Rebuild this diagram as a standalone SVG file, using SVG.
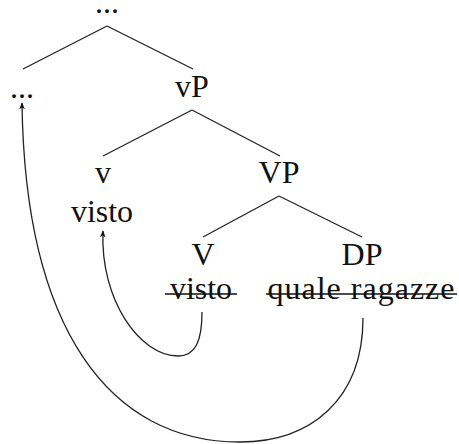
<svg xmlns="http://www.w3.org/2000/svg" width="459" height="444" viewBox="0 0 459 444">
<style>
text{font-family:'Liberation Serif','Times New Roman','DejaVu Serif',serif;font-size:32px;fill:#111;text-anchor:middle}
.e{stroke:#222;stroke-width:1.3;fill:none}
.s{stroke:#111;stroke-width:1.5}
</style>
<defs>
<marker id="ah" viewBox="0 0 10 10" refX="9" refY="5" markerWidth="7" markerHeight="7" orient="auto" markerUnits="userSpaceOnUse">
<path d="M0,1 L10,5 L0,9 L2.5,5 Z" fill="#111"/>
</marker>
</defs>
<g id="edges">
<path class="e" d="M107,26 L23,69 M107,26 L193,69"/>
<path class="e" d="M192,110 L103,156 M192,110 L280,156"/>
<path class="e" d="M279,196 L203,237 M279,196 L362,237"/>
</g>
<g id="n-top"><text x="107" y="13">...</text></g>
<g id="n-left"><text x="22" y="98">...</text></g>
<g id="n-vP"><text x="192" y="97">vP</text></g>
<g id="n-v"><text x="103" y="183">v</text><text x="102" y="222">visto</text></g>
<g id="n-VP"><text x="279" y="183">VP</text></g>
<g id="n-V"><text x="203" y="265">V</text><text x="201" y="299">visto</text><line class="s" x1="165" y1="294" x2="237" y2="294"/></g>
<g id="n-DP"><text x="362" y="265">DP</text><text x="361" y="299" textLength="187">quale ragazze</text><line class="s" x1="266" y1="294" x2="457" y2="294"/></g>
<g id="connectors">
<path class="e" marker-end="url(#ah)" d="M202,312 C202,340 196,356 178,356 C140,356 100,300 103,231"/>
<path class="e" marker-end="url(#ah)" d="M363,318 C363,400 310,442 240,442 C110,442 25,330 22,103"/>
</g>
</svg>
